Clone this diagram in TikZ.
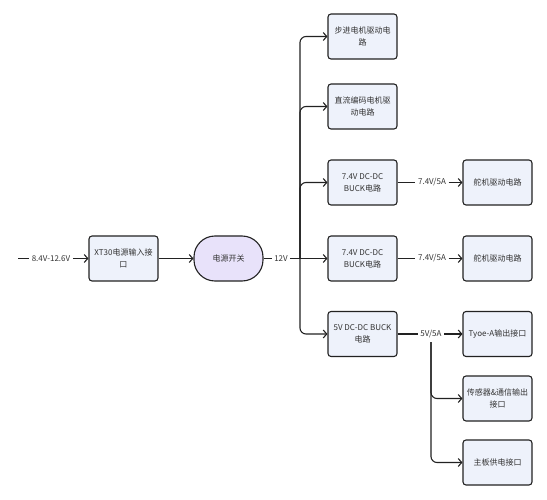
\documentclass[tikz,border=0pt]{standalone}
\usepackage{fontspec}
\setmainfont{Noto Sans CJK SC}
\usetikzlibrary{arrows.meta}
\definecolor{boxfill}{RGB}{238,242,251}
\definecolor{swfill}{RGB}{232,226,250}
\definecolor{edge}{RGB}{34,34,34}
\definecolor{txt}{RGB}{51,51,51}
\tikzset{
  blk/.style={draw=edge, line width=1.1pt, fill=boxfill, rounded corners=3pt,
    minimum width=69pt, minimum height=45pt, align=center,
    inner sep=1pt, font=\fontsize{8pt}{12pt}\selectfont, text=txt},
  swbox/.style={blk, fill=swfill, rounded corners=21pt},
  lbl/.style={inner sep=2.5pt, font=\fontsize{8pt}{10pt}\selectfont, text=txt},
  conn/.style={draw=edge, line width=1.1pt},
  arr/.style={conn, -{Straight Barb[length=3.5pt,width=8pt,line width=1.1pt]}},
}
\begin{document}
\begin{tikzpicture}[x=1pt,y=-1pt]
\useasboundingbox (0,0) rectangle (547,500);
\node[blk] (xt) at (123.5,258.5) {XT30电源输入接\\口};
\node[swbox] (sw) at (228.5,258.5) {电源开关};
\node[blk] (b1) at (362.5,36.5) {步进电机驱动电\\路};
\node[blk] (b2) at (362.5,106.5) {直流编码电机驱\\动电路};
\node[blk] (b3) at (362.5,182.5) {7.4V DC-DC\\BUCK电路};
\node[blk] (b4) at (362.5,258.5) {7.4V DC-DC\\BUCK电路};
\node[blk] (b5) at (362.5,334) {5V DC-DC BUCK\\电路};
\node[blk] (r3) at (497.5,182.5) {舵机驱动电路};
\node[blk] (r4) at (497.5,258.5) {舵机驱动电路};
\node[blk] (r5) at (497.5,334) {Tyoe-A输出接口};
\node[blk] (r6) at (497.5,398.5) {传感器\&通信输出\\接口};
\node[blk] (r7) at (497.5,462.5) {主板供电接口};
\coordinate (in) at (18,258.5);
\node[lbl] (lin) at (51,258.5) {8.4V-12.6V};
\node[lbl] (l12) at (281,258.5) {12V};
\node[lbl] (l3) at (432,182.5) {7.4V/5A};
\node[lbl] (l4) at (432,258.5) {7.4V/5A};
\node[lbl] (l5) at (431,334) {5V/5A};
\coordinate (sp) at (300,258.5);
\coordinate (sp5) at (431,342);
% input
\draw[conn] (in) -- (lin.west);
\draw[arr] (lin.east) -- (xt.west);
\draw[arr] (xt.east) -- (sw.west);
\draw[conn] (sw.east) -- (l12.west);
\draw[arr] (l12.east) -- (b4.west);
\draw[arr, rounded corners=6pt] (sp) |- (b1.west);
\draw[arr, rounded corners=6pt] (sp) |- (b2.west);
\draw[arr, rounded corners=6pt] (sp) |- (b3.west);
\draw[arr, rounded corners=6pt] (sp) |- (b5.west);
% right side
\draw[conn] (b3.east) -- (l3.west);
\draw[arr] (l3.east) -- (r3.west);
\draw[conn] (b4.east) -- (l4.west);
\draw[arr] (l4.east) -- (r4.west);
\draw[conn] (b5.east) -- (l5.west);
\draw[arr] (l5.east) -- (r5.west);
\draw[arr, rounded corners=6pt] (sp5) |- (r6.west);
\draw[arr, rounded corners=6pt] (sp5) |- (r7.west);
\end{tikzpicture}
\end{document}
